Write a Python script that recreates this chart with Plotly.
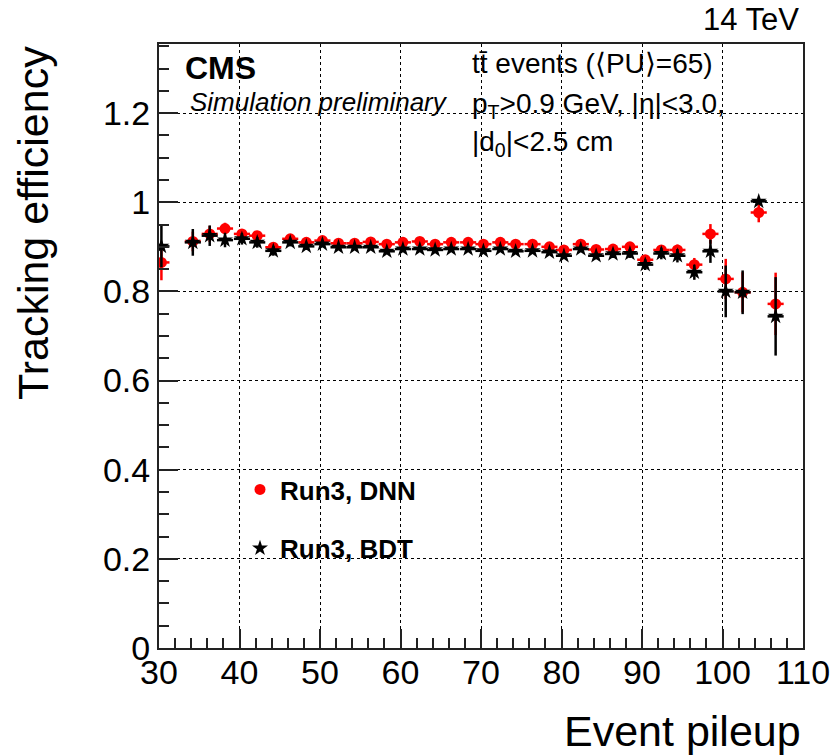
import plotly.graph_objects as go

# ---------------- data ----------------
pileup = [30.3, 34.2, 36.3, 38.2, 40.3, 42.2, 44.2, 46.3, 48.3, 50.3,
          52.3, 54.3, 56.3, 58.3, 60.3, 62.4, 64.3, 66.3, 68.4, 70.3,
          72.4, 74.3, 76.4, 78.5, 80.3, 82.4, 84.3, 86.4, 88.5, 90.4,
          92.4, 94.4, 96.5, 98.5, 100.4, 102.5, 104.5, 106.6]

eff_dnn = [0.865, 0.912, 0.929, 0.941, 0.929, 0.925, 0.899, 0.918, 0.910, 0.914,
           0.908, 0.908, 0.911, 0.906, 0.910, 0.912, 0.906, 0.910, 0.910, 0.906,
           0.910, 0.906, 0.906, 0.900, 0.893, 0.906, 0.894, 0.895, 0.900, 0.871,
           0.893, 0.893, 0.860, 0.929, 0.828, 0.798, 0.977, 0.772]
err_dnn = [0.040, 0.022, 0.018, 0.013, 0.011, 0.010, 0.009, 0.008, 0.007, 0.006,
           0.005, 0.005, 0.005, 0.005, 0.005, 0.005, 0.005, 0.005, 0.005, 0.005,
           0.005, 0.005, 0.005, 0.005, 0.006, 0.006, 0.007, 0.008, 0.009, 0.010,
           0.011, 0.012, 0.015, 0.022, 0.045, 0.045, 0.022, 0.070]

eff_bdt = [0.901, 0.910, 0.925, 0.915, 0.918, 0.910, 0.891, 0.910, 0.901, 0.906,
           0.899, 0.899, 0.899, 0.890, 0.895, 0.895, 0.893, 0.895, 0.895, 0.891,
           0.895, 0.890, 0.891, 0.888, 0.880, 0.895, 0.880, 0.884, 0.885, 0.860,
           0.885, 0.880, 0.843, 0.890, 0.800, 0.798, 1.002, 0.744]
err_bdt = [0.047, 0.030, 0.023, 0.016, 0.013, 0.012, 0.011, 0.009, 0.008, 0.007,
           0.006, 0.006, 0.006, 0.006, 0.006, 0.006, 0.006, 0.006, 0.006, 0.006,
           0.006, 0.006, 0.006, 0.006, 0.007, 0.007, 0.008, 0.009, 0.010, 0.012,
           0.013, 0.015, 0.017, 0.026, 0.058, 0.049, 0.006, 0.088]

bin_half_width = 1.0
series_names = ["Run3, DNN", "Run3, BDT"]
x_ticks = [30, 40, 50, 60, 70, 80, 90, 100, 110]
y_ticks = [0, 0.2, 0.4, 0.6, 0.8, 1.0, 1.2]

# ---------------- layout helpers ----------------
W, H = 832, 755
L, R, T, B = 159, 29, 44, 107
PW, PH = W - L - R, H - T - B
FONT = "Liberation Sans, Arial, Helvetica, sans-serif"


def px(x):
    return (x - L) / PW


def py(y):
    return (H - B - y) / PH


fig = go.Figure()

fig.add_trace(go.Scatter(
    x=pileup, y=eff_dnn, mode="markers", name=series_names[0],
    legendgroup="dnn",
    marker=dict(symbol="circle", size=11, color="#ff0000"),
    error_y=dict(type="data", array=err_dnn, color="#ff0000", thickness=2.5, width=0),
    error_x=dict(type="constant", value=bin_half_width, color="#ff0000", thickness=2.5, width=0),
))
fig.add_trace(go.Scatter(
    x=pileup, y=eff_bdt, mode="markers", name=series_names[1],
    legendgroup="bdt",
    marker=dict(symbol="star", size=12, color="#000000"),
    error_y=dict(type="data", array=err_bdt, color="#000000", thickness=2.5, width=0),
    error_x=dict(type="constant", value=bin_half_width, color="#000000", thickness=2.5, width=0),
))

axis_common = dict(
    showline=True, linecolor="#222222", linewidth=2, mirror=True,
    ticks="inside", tickcolor="#222222", tickwidth=2,
    showgrid=True, gridcolor="#000000", gridwidth=1, griddash="dot",
    zeroline=False, automargin=False,
    tickfont=dict(family=FONT, size=34, color="#000000"),
)

fig.update_xaxes(
    range=[30, 110], tickvals=x_ticks, ticklen=19, ticklabelstandoff=-7,
    minor=dict(dtick=2, ticks="inside", ticklen=10, tickcolor="#222222", tickwidth=2, showgrid=False),
    **axis_common,
)
fig.update_yaxes(
    range=[0, 1.355], tickvals=y_ticks, ticklen=19,
    minor=dict(dtick=0.05, ticks="inside", ticklen=10, tickcolor="#222222", tickwidth=2, showgrid=False),
    **axis_common,
)

annotations = [
    dict(text="<b>CMS</b>", x=px(183), y=py(68), xanchor="left", yanchor="middle",
         font=dict(family=FONT, size=32, color="#000")),
    dict(text="<i>Simulation preliminary</i>", x=px(188), y=py(102), xanchor="left", yanchor="middle",
         font=dict(family=FONT, size=26, color="#000")),
    dict(text="tt\u0304 events (\u27e8PU\u27e9=65)", x=px(470), y=py(63), xanchor="left", yanchor="middle",
         font=dict(family=FONT, size=28, color="#000")),
    dict(text="p<sub>T</sub>&gt;0.9 GeV, |\u03b7|&lt;3.0,", x=px(470), y=py(106), xanchor="left", yanchor="middle",
         font=dict(family=FONT, size=28, color="#000")),
    dict(text="|d<sub>0</sub>|&lt;2.5 cm", x=px(470), y=py(144), xanchor="left", yanchor="middle",
         font=dict(family=FONT, size=28, color="#000")),
    dict(text="14 TeV", x=px(801), y=py(19), xanchor="right", yanchor="middle",
         font=dict(family=FONT, size=31, color="#000")),
    dict(text="Tracking efficiency", x=px(33), y=py(44), xanchor="center", yanchor="top",
         textangle=-90, font=dict(family=FONT, size=43, color="#000")),
    dict(text="Event pileup", x=px(803), y=py(731), xanchor="right", yanchor="middle",
         font=dict(family=FONT, size=43, color="#000")),
]
for a in annotations:
    a.update(xref="paper", yref="paper", showarrow=False)

fig.update_layout(
    width=W, height=H,
    margin=dict(l=L, r=R, t=T, b=B, autoexpand=False),
    paper_bgcolor="white", plot_bgcolor="white",
    annotations=annotations,
    showlegend=True,
    legend=dict(
        x=px(240), y=py(466), xanchor="left", yanchor="top",
        font=dict(family=FONT, size=26, color="#000", weight="bold"),
        bgcolor="rgba(0,0,0,0)", tracegroupgap=22, itemwidth=30,
        traceorder="grouped",
    ),
)

fig.write_html("out.html", config={"displayModeBar": False},
               post_script="document.body.style.margin='0px';")
